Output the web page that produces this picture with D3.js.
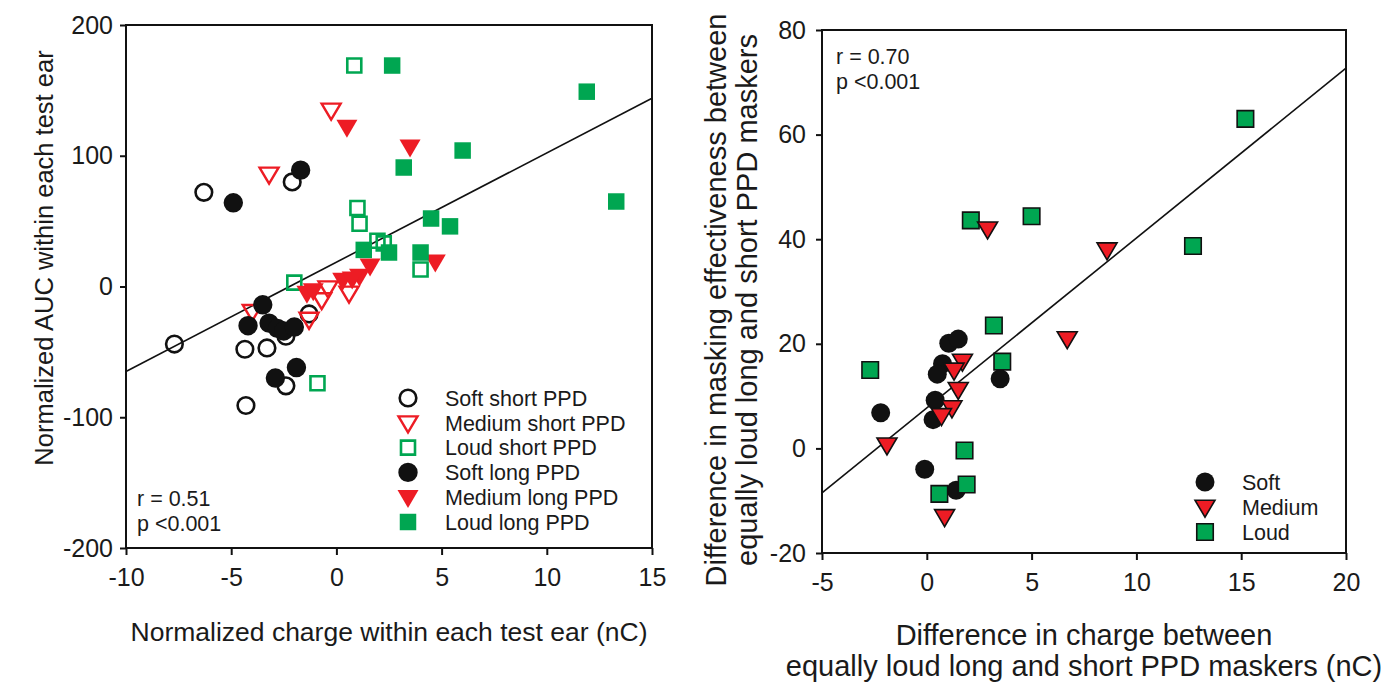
<!DOCTYPE html>
<html>
<head>
<meta charset="utf-8">
<script src="https://cdn.jsdelivr.net/npm/d3@7"></script>
<style>
  body { margin: 0; background: #fff; }
  svg text { font-family: "Liberation Sans", Arial, sans-serif; fill: #1a1a1a; }
</style>
</head>
<body>
<div id="chart"></div>
<script>
// ---- left panel data: [normalized charge (nC), normalized AUC]
var leftSoftShort = [[-6.3, 72], [-2.1, 80], [-7.7, -44], [-4.35, -48], [-3.3, -47], [-2.4, -38], [-1.3, -21], [-2.4, -76], [-4.3, -91]];
var leftMediumShort = [[-0.25, 135], [-3.2, 86], [-4.0, -19], [-1.3, -25], [-0.4, -1], [-0.7, -10], [0.6, -5]];
var leftLoudShort = [[0.85, 169], [1.0, 60], [1.1, 48], [1.95, 35], [2.25, 33], [4.0, 13], [-2.0, 3], [-0.9, -74]];
var leftSoftLong = [[-4.9, 64], [-1.7, 89], [-3.5, -14], [-4.2, -30], [-3.2, -28], [-2.8, -32], [-2.5, -34], [-2.0, -31], [-2.9, -70], [-1.9, -62]];
var leftMediumLong = [[0.5, 122], [3.5, 107], [4.7, 19], [1.6, 16], [1.1, 8], [0.3, 5], [0.75, 6], [-1.4, -5], [-1.1, -3]];
var leftLoudLong = [[2.65, 169], [11.9, 149], [6.0, 104], [3.2, 91], [13.3, 65], [4.5, 52], [5.4, 46], [1.3, 28], [2.5, 26], [4.0, 26]];
var leftFit = [[-10, -65], [15, 144]];
var leftXTicks = [-10, -5, 0, 5, 10, 15];
var leftYTicks = [-200, -100, 0, 100, 200];
var leftLegend = ["Soft short PPD", "Medium short PPD", "Loud short PPD", "Soft long PPD", "Medium long PPD", "Loud long PPD"];
var leftStats = ["r = 0.51", "p <0.001"];

// ---- right panel data: [difference in charge (nC), difference in masking effectiveness]
var rightSoft = [[1.05, 20.1], [1.5, 20.9], [0.75, 16.2], [0.5, 14.2], [3.5, 13.3], [-2.2, 6.8], [0.4, 9.2], [0.3, 5.5], [-0.1, -4], [1.4, -8]];
var rightMedium = [[2.9, 42], [8.6, 38], [6.7, 21], [1.7, 16.7], [1.3, 15], [1.5, 11.3], [1.2, 7.8], [0.7, 6.3], [-1.9, 0.7], [0.85, -13]];
var rightLoud = [[15.2, 63], [2.1, 43.6], [5.0, 44.4], [12.7, 38.7], [3.2, 23.5], [3.6, 16.6], [-2.7, 15], [1.8, -0.4], [1.9, -6.9], [0.6, -8.7]];
var rightFit = [[-5, -8.5], [20, 72.7]];
var rightXTicks = [-5, 0, 5, 10, 15, 20];
var rightYTicks = [-20, 0, 20, 40, 60, 80];
var rightLegend = ["Soft", "Medium", "Loud"];
var rightStats = ["r = 0.70", "p <0.001"];

var RED = "#ed1c24", GREEN = "#00a651", BLACK = "#111";

var svg = d3.select("#chart").append("svg")
    .attr("width", 1400)
    .attr("height", 683);

// marker shapes centred on 0,0
function circlePath(r) {
  return "M" + (-r) + ",0A" + r + "," + r + " 0 1,0 " + r + ",0A" + r + "," + r + " 0 1,0 " + (-r) + ",0Z";
}
function squarePath(s) {
  var h = s / 2;
  return "M" + (-h) + "," + (-h) + "H" + h + "V" + h + "H" + (-h) + "Z";
}
function triPath(w, h) {
  return "M" + (-w / 2) + "," + (-h * 0.4) + "L" + (w / 2) + "," + (-h * 0.4) + "L0," + (h * 0.6) + "Z";
}

function initPanel(left, top, right, bottom, xDomain, yDomain) {
  var x = d3.scaleLinear().domain(xDomain).range([left, right]);
  var y = d3.scaleLinear().domain(yDomain).range([bottom, top]);
  return { x: x, y: y, left: left, top: top, right: right, bottom: bottom };
}

function drawFrame(p, xTicks, yTicks, yPad) {
  // box
  svg.append("rect")
      .attr("x", p.left).attr("y", p.top)
      .attr("width", p.right - p.left).attr("height", p.bottom - p.top)
      .attr("fill", "none").attr("stroke", BLACK).attr("stroke-width", 2);

  var xAxis = svg.append("g")
      .attr("transform", "translate(0," + p.bottom + ")")
      .call(d3.axisBottom(p.x).tickValues(xTicks).tickSize(7).tickPadding(13));
  var yAxis = svg.append("g")
      .attr("transform", "translate(" + p.left + ",0)")
      .call(d3.axisLeft(p.y).tickValues(yTicks).tickSize(6).tickPadding(yPad));
  [xAxis, yAxis].forEach(function(a) {
    a.select(".domain").remove();
    a.selectAll(".tick line").attr("stroke", BLACK).attr("stroke-width", 2);
    a.selectAll("text")
        .style("font-size", "25px")
        .style("font-family", "'Liberation Sans', Arial, sans-serif")
        .attr("fill", "#1a1a1a")
        .text(function(d) { return d < 0 ? "-" + Math.abs(d) : d; });
  });
}

function drawFit(p, pts) {
  svg.append("path")
      .datum(pts)
      .attr("fill", "none")
      .attr("stroke", BLACK)
      .attr("stroke-width", 1.6)
      .attr("d", d3.line().x(function(d) { return p.x(d[0]); }).y(function(d) { return p.y(d[1]); }));
}

function drawPoints(p, data, shape, fill, stroke, sw) {
  svg.append("g")
      .selectAll("path")
      .data(data)
      .enter().append("path")
        .attr("transform", function(d) { return "translate(" + p.x(d[0]) + "," + p.y(d[1]) + ")"; })
        .attr("d", shape)
        .attr("fill", fill)
        .attr("stroke", stroke)
        .attr("stroke-width", sw);
}

// ================= left panel =================
var L = initPanel(126, 25, 652, 548, [-10, 15], [-200, 200]);
drawFrame(L, leftXTicks, leftYTicks, 7);
drawFit(L, leftFit);

var openCircle = circlePath(8.3), openSquare = squarePath(14), openTri = triPath(19, 16);
var fullCircle = circlePath(9.7), fullSquare = squarePath(16.5), fullTri = triPath(21, 18);
drawPoints(L, leftSoftShort, openCircle, "none", BLACK, 2.6);
drawPoints(L, leftMediumShort, openTri, "none", RED, 2.4);
drawPoints(L, leftLoudShort, openSquare, "none", GREEN, 2.6);
drawPoints(L, leftSoftLong, fullCircle, BLACK, "none", 0);
drawPoints(L, leftMediumLong, fullTri, RED, "none", 0);
drawPoints(L, leftLoudLong, fullSquare, GREEN, "none", 0);

// legend
var leftLegendShapes = [
  { d: openCircle, fill: "none", stroke: BLACK, sw: 2.6 },
  { d: openTri, fill: "none", stroke: RED, sw: 2.4 },
  { d: openSquare, fill: "none", stroke: GREEN, sw: 2.6 },
  { d: fullCircle, fill: BLACK, stroke: "none", sw: 0 },
  { d: fullTri, fill: RED, stroke: "none", sw: 0 },
  { d: fullSquare, fill: GREEN, stroke: "none", sw: 0 }
];
var legL = svg.selectAll(".legL")
    .data(leftLegend)
    .enter().append("g")
    .attr("class", "legL")
    .attr("transform", function(d, i) { return "translate(408," + (398 + i * 24.8) + ")"; });
legL.append("path")
    .attr("d", function(d, i) { return leftLegendShapes[i].d; })
    .attr("fill", function(d, i) { return leftLegendShapes[i].fill; })
    .attr("stroke", function(d, i) { return leftLegendShapes[i].stroke; })
    .attr("stroke-width", function(d, i) { return leftLegendShapes[i].sw; });
legL.append("text")
    .attr("x", 37)
    .attr("dy", "0.36em")
    .style("font-size", "21.5px")
    .text(function(d) { return d; });

svg.selectAll(".statL")
    .data(leftStats)
    .enter().append("text")
    .attr("x", 137)
    .attr("y", function(d, i) { return 506 + i * 25; })
    .style("font-size", "21.5px")
    .text(function(d) { return d; });

svg.append("text")
    .attr("transform", "translate(53,258)rotate(-90)")
    .attr("text-anchor", "middle")
    .style("font-size", "25.5px")
    .text("Normalized AUC within each test ear");
svg.append("text")
    .attr("x", 389)
    .attr("y", 641)
    .attr("text-anchor", "middle")
    .style("font-size", "26.5px")
    .text("Normalized charge within each test ear (nC)");

// ================= right panel =================
var R = initPanel(822, 30, 1346, 553, [-5, 20], [-20, 80]);
drawFrame(R, rightXTicks, rightYTicks, 10);
drawFit(R, rightFit);

var rCircle = circlePath(9.5), rSquare = squarePath(16.5), rTri = triPath(20, 17);
drawPoints(R, rightSoft, rCircle, BLACK, "none", 0);
drawPoints(R, rightLoud, rSquare, GREEN, BLACK, 1.6);
drawPoints(R, rightMedium, rTri, RED, BLACK, 1.6);

var rightLegendShapes = [
  { d: rCircle, fill: BLACK, stroke: "none" },
  { d: rTri, fill: RED, stroke: BLACK },
  { d: rSquare, fill: GREEN, stroke: BLACK }
];
var legR = svg.selectAll(".legR")
    .data(rightLegend)
    .enter().append("g")
    .attr("class", "legR")
    .attr("transform", function(d, i) { return "translate(1205," + (482 + i * 25) + ")"; });
legR.append("path")
    .attr("d", function(d, i) { return rightLegendShapes[i].d; })
    .attr("fill", function(d, i) { return rightLegendShapes[i].fill; })
    .attr("stroke", function(d, i) { return rightLegendShapes[i].stroke; })
    .attr("stroke-width", 1.6);
legR.append("text")
    .attr("x", 37)
    .attr("dy", "0.36em")
    .style("font-size", "21.5px")
    .text(function(d) { return d; });

svg.selectAll(".statR")
    .data(rightStats)
    .enter().append("text")
    .attr("x", 836)
    .attr("y", function(d, i) { return 64 + i * 25; })
    .style("font-size", "21.5px")
    .text(function(d) { return d; });

svg.append("text")
    .attr("transform", "translate(726,300)rotate(-90)")
    .attr("text-anchor", "middle")
    .style("font-size", "29px")
    .text("Difference in masking effectiveness between");
svg.append("text")
    .attr("transform", "translate(757,300)rotate(-90)")
    .attr("text-anchor", "middle")
    .style("font-size", "29px")
    .text("equally loud long and short PPD maskers");

svg.append("text")
    .attr("x", 1084)
    .attr("y", 645)
    .attr("text-anchor", "middle")
    .style("font-size", "29px")
    .text("Difference in charge between");
svg.append("text")
    .attr("x", 1084)
    .attr("y", 676)
    .attr("text-anchor", "middle")
    .style("font-size", "29px")
    .text("equally loud long and short PPD maskers (nC)");
</script>
</body>
</html>
